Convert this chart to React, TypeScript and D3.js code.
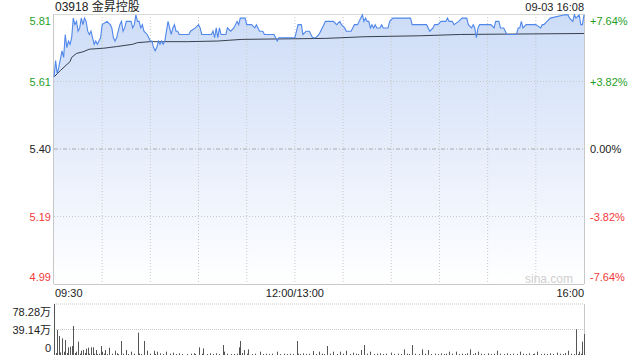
import React from "react";
import * as d3 from "d3";

const title = "03918 金昇控股";
const stamp = "09-03 16:08";
const prevClose = 5.4;
const pctTicks = [7.64, 3.82, 0, -3.82, -7.64];
const priceTickLabels = ["5.81", "5.61", "5.40", "5.19", "4.99"];
const pctTickLabels = ["+7.64%", "+3.82%", "0.00%", "-3.82%", "-7.64%"];
const timeLabels = ["09:30", "12:00/13:00", "16:00"];
const timeLabelMinutes = [0, 150, 330];
const volTickLabels = ["78.28万", "39.14万", "0"];
const volTicks = [78.28, 39.14, 0];

const priceMinutes = [0, 1, 2, 3, 5, 6, 7, 8, 9, 10, 11, 12, 13, 14, 15, 16, 17, 18, 19, 20, 21, 22, 23, 24, 25, 26, 27, 28, 29, 30, 33, 35, 36, 37, 38, 39, 40, 41, 42, 43, 44, 45, 48, 49, 50, 51, 52, 53, 54, 55, 56, 58, 59, 60, 61, 62, 63, 64, 65, 66, 67, 68, 69, 71, 72, 73, 74, 75, 76, 77, 78, 84, 85, 88, 90, 91, 92, 98, 99, 100, 101, 102, 103, 104, 107, 108, 110, 112, 114, 115, 116, 119, 120, 123, 125, 126, 128, 130, 131, 137, 138, 139, 140, 150, 151, 152, 154, 155, 157, 159, 161, 163, 165, 166, 167, 168, 169, 174, 176, 178, 179, 181, 182, 185, 186, 187, 189, 190, 191, 192, 193, 194, 195, 196, 197, 198, 199, 200, 201, 203, 204, 205, 208, 209, 211, 222, 223, 226, 232, 233, 234, 236, 237, 239, 241, 244, 245, 246, 248, 249, 252, 254, 257, 258, 260, 261, 262, 263, 264, 265, 272, 274, 275, 277, 278, 280, 282, 288, 289, 290, 291, 292, 294, 300, 303, 304, 305, 307, 309, 318, 320, 321, 323, 324, 325, 327, 328, 329, 330];
const priceValues = [5.62, 5.67, 5.63, 5.65, 5.70, 5.68, 5.75, 5.71, 5.73, 5.72, 5.74, 5.80, 5.78, 5.79, 5.76, 5.77, 5.80, 5.78, 5.80, 5.79, 5.76, 5.75, 5.76, 5.74, 5.72, 5.73, 5.72, 5.73, 5.74, 5.78, 5.79, 5.78, 5.77, 5.74, 5.73, 5.74, 5.76, 5.78, 5.79, 5.76, 5.77, 5.79, 5.79, 5.77, 5.78, 5.81, 5.79, 5.79, 5.77, 5.78, 5.76, 5.75, 5.74, 5.73, 5.73, 5.71, 5.70, 5.71, 5.73, 5.72, 5.73, 5.72, 5.73, 5.79, 5.77, 5.75, 5.77, 5.78, 5.76, 5.76, 5.75, 5.75, 5.76, 5.77, 5.78, 5.77, 5.75, 5.75, 5.76, 5.74, 5.77, 5.74, 5.77, 5.75, 5.75, 5.77, 5.76, 5.77, 5.79, 5.78, 5.80, 5.80, 5.78, 5.78, 5.77, 5.78, 5.76, 5.76, 5.75, 5.75, 5.74, 5.73, 5.74, 5.74, 5.76, 5.78, 5.78, 5.75, 5.76, 5.76, 5.74, 5.74, 5.75, 5.76, 5.77, 5.78, 5.79, 5.79, 5.78, 5.79, 5.78, 5.77, 5.76, 5.76, 5.77, 5.78, 5.78, 5.79, 5.80, 5.81, 5.79, 5.80, 5.79, 5.79, 5.77, 5.78, 5.77, 5.78, 5.77, 5.77, 5.78, 5.77, 5.77, 5.79, 5.80, 5.80, 5.78, 5.78, 5.78, 5.77, 5.76, 5.77, 5.78, 5.78, 5.79, 5.79, 5.80, 5.79, 5.79, 5.78, 5.79, 5.80, 5.80, 5.78, 5.77, 5.78, 5.77, 5.74, 5.77, 5.78, 5.78, 5.77, 5.79, 5.79, 5.77, 5.77, 5.75, 5.75, 5.77, 5.77, 5.79, 5.77, 5.78, 5.78, 5.77, 5.78, 5.78, 5.79, 5.80, 5.81, 5.81, 5.80, 5.79, 5.81, 5.80, 5.81, 5.78, 5.78, 5.81];

const avgMinutes = [0, 4, 10, 11, 14, 18, 22, 31, 39, 49, 52, 60, 83, 102, 117, 169, 193, 228, 253, 330];
const avgValues = [5.62, 5.64, 5.667, 5.68, 5.692, 5.697, 5.705, 5.708, 5.713, 5.72, 5.725, 5.728, 5.728, 5.73, 5.735, 5.738, 5.743, 5.746, 5.75, 5.753];

const volMinutes = [0, 1, 2, 3, 4, 5, 6, 7, 8, 9, 10, 11, 12, 13, 14, 15, 16, 17, 18, 19, 20, 21, 22, 23, 24, 25, 26, 27, 28, 29, 30, 31, 32, 33, 34, 36, 38, 39, 40, 42, 43, 45, 46, 48, 50, 52, 53, 54, 56, 58, 60, 62, 63, 64, 66, 68, 70, 72, 74, 76, 78, 80, 83, 85, 87, 88, 90, 92, 93, 95, 97, 99, 101, 103, 105, 106, 108, 110, 112, 114, 115, 116, 117, 118, 120, 121, 123, 125, 128, 130, 132, 134, 136, 139, 141, 143, 145, 147, 149, 151, 152, 153, 155, 157, 159, 161, 163, 165, 167, 168, 170, 172, 174, 176, 178, 180, 182, 184, 186, 188, 189, 191, 193, 195, 197, 199, 201, 203, 205, 207, 210, 212, 214, 216, 218, 220, 221, 223, 225, 227, 229, 231, 233, 235, 237, 239, 241, 243, 244, 246, 248, 250, 252, 254, 256, 257, 259, 261, 262, 264, 266, 268, 270, 272, 274, 276, 278, 280, 282, 284, 286, 288, 290, 292, 294, 296, 298, 299, 301, 303, 305, 307, 309, 311, 313, 315, 317, 318, 320, 322, 324, 325, 326, 327, 328, 329, 330];
const volValues = [78.28, 3, 38.4, 29.2, 4, 25.6, 5, 23, 3, 11.8, 12.8, 13.8, 44.5, 3, 5.1, 20.5, 2, 6.6, 7.7, 3, 9.7, 11.3, 2, 11.8, 11.8, 2, 7.7, 1.5, 2, 13.8, 5.1, 2, 7.7, 1.5, 11.3, 2, 6.6, 2.6, 1.5, 21.5, 2, 7.7, 1.5, 5.1, 2, 34.3, 2, 1.5, 21.5, 6.6, 2, 6.6, 1.5, 5.1, 2.6, 1.5, 5.1, 2, 3.6, 1.5, 2.6, 1.5, 1.5, 2, 2.6, 1.5, 11.8, 2, 10.2, 1.5, 2.6, 1.5, 2.6, 1.5, 15.3, 5.1, 2, 1.5, 1.5, 2, 11.8, 21.5, 3, 7.7, 2, 8.7, 1.5, 2, 5.1, 1.5, 2, 1.5, 2, 5.1, 1.5, 2, 1.5, 2, 1.5, 21.5, 2, 1.5, 2.6, 1.5, 2, 6.1, 1.5, 5.1, 2, 1.5, 13.8, 2, 5.1, 1.5, 5.1, 2, 6.6, 1.5, 3.6, 2, 1.5, 7.7, 15.3, 2, 5.1, 1.5, 2, 2.6, 1.5, 2, 3.6, 1.5, 2, 1.5, 8.7, 2, 1.5, 15.3, 2, 1.5, 8.7, 2, 7.7, 1.5, 2, 1.5, 2.6, 1.5, 2, 5.1, 2, 5.1, 1.5, 2, 1.5, 2.6, 8.7, 1.5, 3, 5.1, 2, 1.5, 2.6, 1.5, 2, 6.6, 2, 1.5, 2.6, 1.5, 2, 1.5, 5.1, 2, 1.5, 2.6, 1.5, 2, 5.1, 1.5, 2, 1.5, 2.6, 1.5, 3.6, 2, 1.5, 3, 6.6, 2, 1.5, 39.4, 1.5, 5.1, 2, 20.5, 32.2];

const GREEN = "#1f9e1f";
const RED = "#f23a3a";
const DARK = "#222";
const FONT = "'Liberation Sans', Arial, 'Noto Sans CJK SC', sans-serif";

export default function App() {
  const L = 54, R = 584, T = 14, B = 284;
  const VT = 304, VB = 355;
  const x = d3.scaleLinear().domain([0, 330]).range([L, R]);
  const y = d3
    .scaleLinear()
    .domain([prevClose * (1 - 0.0764), prevClose * (1 + 0.0764)])
    .range([B, T]);
  const yv = d3.scaleLinear().domain([0, 78.28]).range([VB, VT]);

  const pricePts = priceMinutes.map((m, i) => [m, priceValues[i]] as [number, number]);
  const avgPts = avgMinutes.map((m, i) => [m, avgValues[i]] as [number, number]);
  const line = d3.line<[number, number]>().x((d) => x(d[0])).y((d) => y(d[1]));
  const area = d3
    .area<[number, number]>()
    .x((d) => x(d[0]))
    .y0(B)
    .y1((d) => y(d[1]));

  const vGrid = d3.range(1, 11).map((i) => i * 30);
  const labelY = (i: number, gy: number) =>
    i === 0 ? gy + 10.5 : i === pctTicks.length - 1 ? gy - 3.5 : gy + 4;
  const colorFor = (p: number) => (p > 0 ? GREEN : p < 0 ? RED : DARK);

  return (
    <svg
      width={640}
      height={360}
      style={{ position: "absolute", left: 0, top: 0, background: "#fff" }}
      fontFamily={FONT}
    >
      <defs>
        <linearGradient id="fillGrad" x1="0" y1={T} x2="0" y2={B} gradientUnits="userSpaceOnUse">
          <stop offset="0" stopColor="#cddcf7" />
          <stop offset="1" stopColor="#ffffff" />
        </linearGradient>
      </defs>

      {/* area */}
      <path d={area(pricePts) || ""} fill="url(#fillGrad)" />

      {/* grid */}
      {vGrid.map((m) => (
        <line key={"vg" + m} x1={x(m)} x2={x(m)} y1={T} y2={B} stroke="#c8c8c8" strokeDasharray="1,2" />
      ))}
      {pctTicks.map((p, i) => {
        if (i === 0 || i === pctTicks.length - 1) return null;
        const gy = y(prevClose * (1 + p / 100));
        return (
          <line
            key={"hg" + i}
            x1={L}
            x2={R}
            y1={gy}
            y2={gy}
            stroke={p === 0 ? "#aaa" : "#c8c8c8"}
            strokeDasharray={p === 0 ? "4,2,1,2" : "1,2"}
          />
        );
      })}

      {/* borders */}
      <line x1={L} x2={R} y1={T + 0.5} y2={T + 0.5} stroke="#d8d8d8" />
      <line x1={L} x2={R} y1={B + 0.5} y2={B + 0.5} stroke="#c8c8c8" />
      <line x1={L - 0.5} x2={L - 0.5} y1={T} y2={B} stroke="#c8c8c8" />
      <line x1={R + 0.5} x2={R + 0.5} y1={T} y2={B} stroke="#c8c8c8" />

      {/* lines */}
      <path d={line(avgPts) || ""} fill="none" stroke="#38404f" strokeWidth={1} />
      <path d={line(pricePts) || ""} fill="none" stroke="#4f87ea" strokeWidth={1.1} />

      {/* watermark */}
      <text x={573} y={283} textAnchor="end" fontSize={12} fill="#cfcfcf">
        sina.com
      </text>

      {/* labels */}
      <text x={L + 1} y={11} fontSize={12} fill={DARK}>
        {title}
      </text>
      <text x={R} y={11} fontSize={11} textAnchor="end" fill={DARK}>
        {stamp}
      </text>
      {pctTicks.map((p, i) => {
        const gy = y(prevClose * (1 + p / 100));
        const ly = labelY(i, gy);
        return (
          <g key={"yl" + i}>
            <text x={L - 3} y={ly} fontSize={11} textAnchor="end" fill={colorFor(p)}>
              {priceTickLabels[i]}
            </text>
            <text x={R + 6} y={ly} fontSize={11} fill={colorFor(p)}>
              {pctTickLabels[i]}
            </text>
          </g>
        );
      })}
      {timeLabels.map((t, i) => (
        <text
          key={"tl" + i}
          x={x(timeLabelMinutes[i]) + (i === 0 ? 1 : 0)}
          y={297}
          fontSize={11}
          fill={DARK}
          textAnchor={i === 0 ? "start" : i === 1 ? "middle" : "end"}
        >
          {t}
        </text>
      ))}

      {/* volume */}
      {volTicks.slice(0, 2).map((v) => (
        <line key={"vgl" + v} x1={L} x2={R} y1={yv(v)} y2={yv(v)} stroke="#c8c8c8" strokeDasharray="1,1" />
      ))}
      <line x1={R + 0.5} x2={R + 0.5} y1={VT} y2={VB} stroke="#c8c8c8" />
      {volMinutes.map((m, i) => (
        <rect
          key={"vb" + m}
          x={Math.round(x(m))}
          width={1}
          y={yv(volValues[i])}
          height={VB - yv(volValues[i])}
          fill="#555"
        />
      ))}
      {volTickLabels.map((t, i) => (
        <text
          key={"vl" + i}
          x={L - 3}
          y={i === 0 ? yv(volTicks[i]) + 12 : i === 1 ? yv(volTicks[i]) + 4 : 352}
          fontSize={11}
          textAnchor="end"
          fill={DARK}
        >
          {t}
        </text>
      ))}
    </svg>
  );
}
